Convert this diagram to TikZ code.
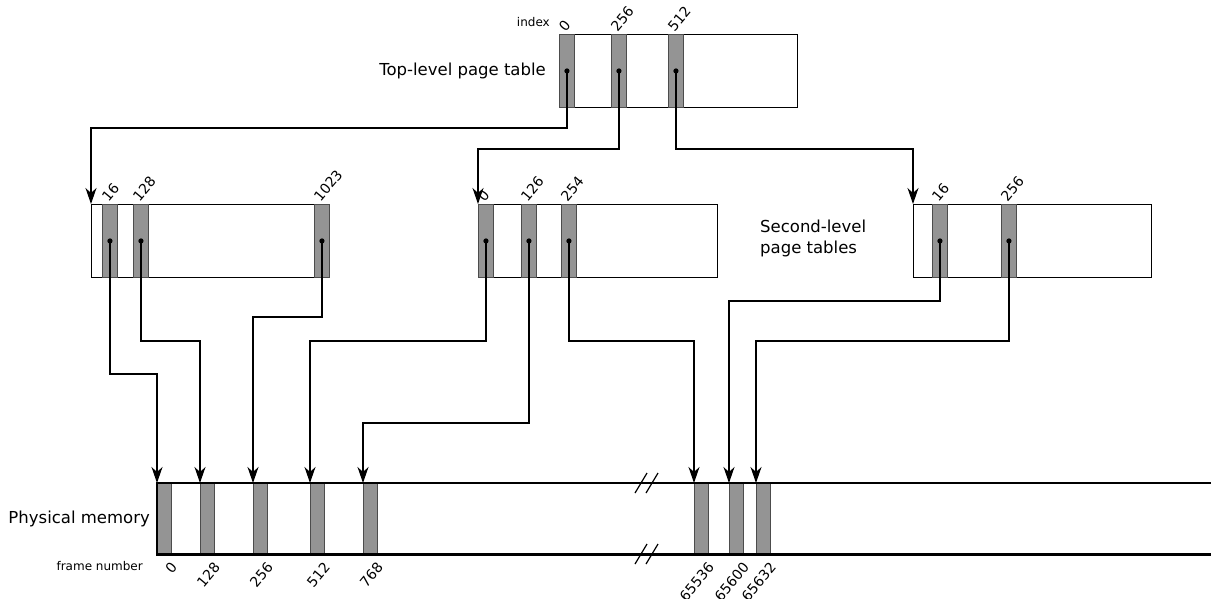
\documentclass[tikz,border=0pt]{standalone}
\usepackage{fontspec}
\setmainfont{DejaVu Sans}
\usetikzlibrary{arrows.meta,positioning,calc}

\begin{document}
\begin{tikzpicture}[x=1pt, y=-1pt, >={Stealth[length=16pt,width=11pt,inset=5pt]},
		tbl/.style={draw, line width=1.1pt, minimum width=238pt, minimum height=73pt, inner sep=0pt, anchor=north west},
		slot/.style={draw=black!70, fill=black!42, line width=0.9pt, minimum width=15pt, minimum height=73pt, inner sep=0pt, anchor=north west},
		ptr/.style={->, line width=1.2pt},
		lbl/.style={font=\fontsize{16.5}{21}\selectfont, inner sep=0pt},
		small/.style={font=\fontsize{12}{14}\selectfont, inner sep=0pt},
		idx/.style={font=\fontsize{14}{16}\selectfont, rotate=50, anchor=base west, inner sep=0pt, yshift=2pt},
		frm/.style={font=\fontsize{14}{16}\selectfont, rotate=50, anchor=base east, inner sep=0pt, xshift=-6pt, yshift=-13pt}]
		\useasboundingbox (0,0) rectangle (1211,598);

		% Top-level page table
		\node[tbl] (top) at (559,34) {};
		\node[slot] (t0) at (559,34) {};
		\node[slot] (t256) at (611,34) {};
		\node[slot] (t512) at (668,34) {};
		\node[idx] at (t0.north) {0};
		\node[idx] at (t256.north) {256};
		\node[idx] at (t512.north) {512};
		\node[small, anchor=east] at (550,22) {index};
		\node[lbl, left=13pt of top] {Top-level page table};

		% Second-level page tables
		\node[tbl] (sa) at (91,204) {};
		\node[slot] (a16) at (102,204) {};
		\node[slot] (a128) at (133,204) {};
		\node[slot] (a1023) at (314,204) {};
		\node[tbl, minimum width=239pt] (sb) at (478,204) {};
		\node[slot] (b0) at (478,204) {};
		\node[slot] (b126) at (521,204) {};
		\node[slot] (b254) at (561,204) {};
		\node[tbl] (sc) at (913,204) {};
		\node[slot] (c16) at (932,204) {};
		\node[slot] (c256) at (1001,204) {};
		\foreach \s/\t in {a16/16, a128/128, a1023/1023, b0/0, b126/126, b254/254, c16/16, c256/256}
			\node[idx] at (\s.north) {\t};
		\node[lbl, align=left, anchor=west] at (760,238) {Second-level\\page tables};

		% Physical memory
		\node[minimum width=1054pt, minimum height=71pt, inner sep=0pt, anchor=north west] (mem) at (157,483) {};
		\foreach \x/\t in {157/0, 200/128, 253/256, 310/512, 363/768, 694/65536, 729/65600, 756/65632} {
			\node[slot, minimum width=14pt, minimum height=71pt] (m\t) at (\x,483) {};
			\node[frm] at (m\t.south east) {\t};
		}
		\draw[line width=2.6pt] (mem.north east) -- (mem.north west) -- (mem.south west) -- (mem.south east);
		\node[lbl, left=7pt of mem] {Physical memory};
		\node[small, anchor=east] at (143,566) {frame number};

		% Break marks
		\coordinate (brk) at (647,483);
		\foreach \dy in {0,71}
			\foreach \dx in {-6,5}
				\draw[line width=1.2pt] ($(brk)+(\dx-6,\dy+10)$) -- ($(brk)+(\dx+6,\dy-10)$);

		% Pointers to second-level tables
		\draw[ptr] (t0.center) -- (t0.center |- 0,128) -| (sa.north west);
		\draw[ptr] (t256.center) -- (t256.center |- 0,149) -| (sb.north west);
		\draw[ptr] (t512.center) -- (t512.center |- 0,149) -| (sc.north west);

		% Pointers to frames
		\draw[ptr] (a16.center) -- (a16.center |- 0,374) -| (m0.north west);
		\draw[ptr] (a128.center) -- (a128.center |- 0,341) -| (m128.north west);
		\draw[ptr] (a1023.center) -- (a1023.center |- 0,317) -| (m256.north west);
		\draw[ptr] (b0.center) -- (b0.center |- 0,341) -| (m512.north west);
		\draw[ptr] (b126.center) -- (b126.center |- 0,423) -| (m768.north west);
		\draw[ptr] (b254.center) -- (b254.center |- 0,341) -| (m65536.north west);
		\draw[ptr] (c16.center) -- (c16.center |- 0,301) -| (m65600.north west);
		\draw[ptr] (c256.center) -- (c256.center |- 0,341) -| (m65632.north west);

		% Entry dots
		\foreach \s in {t0, t256, t512, a16, a128, a1023, b0, b126, b254, c16, c256}
			\fill (\s.center) circle (2.6pt);
	\end{tikzpicture}
\end{document}
